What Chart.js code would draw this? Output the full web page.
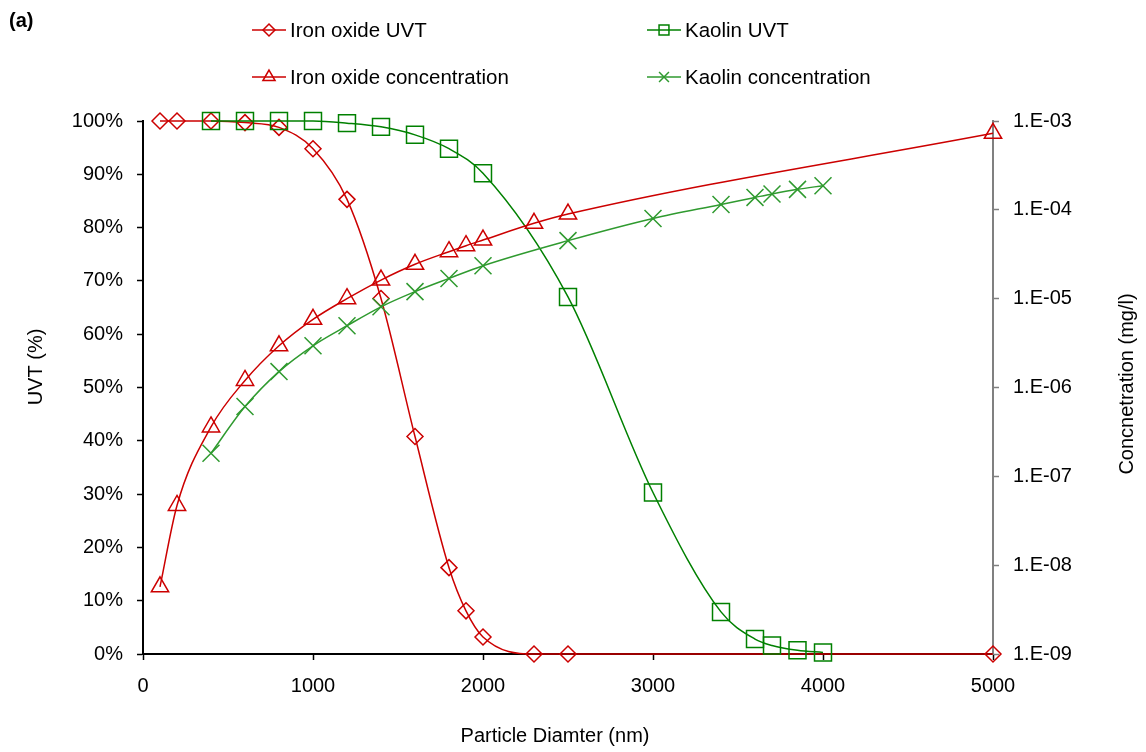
<!DOCTYPE html>
<html>
<head>
<meta charset="utf-8">
<script src="https://cdn.jsdelivr.net/npm/chart.js@4"></script>
<style>
    html, body { margin: 0; padding: 0; background: #fff; }
    #wrap { width: 1146px; height: 752px; }
</style>
</head>
<body>
<div id="wrap"><canvas id="myChart" width="1146" height="752"></canvas></div>
<script>
// particle size (nm) and measured values for each series
var ironUvtSize = [100, 200, 400, 600, 800, 1000, 1200, 1400, 1600, 1800, 1900, 2000, 2300, 2500, 5000];
var ironUvt = [100, 100, 100, 99.7, 98.8, 94.8, 85.3, 66.7, 40.8, 16.2, 8.1, 3.2, 0, 0, 0];

var kaolinUvtSize = [400, 600, 800, 1000, 1200, 1400, 1600, 1800, 2000, 2500, 3000, 3400, 3600, 3700, 3850, 4000];
var kaolinUvt = [100, 100, 100, 100, 99.6, 98.9, 97.4, 94.8, 90.2, 67.0, 30.3, 7.9, 2.8, 1.6, 0.7, 0.3];

var ironConcSize = [100, 200, 400, 600, 800, 1000, 1200, 1400, 1600, 1800, 1900, 2000, 2300, 2500, 5000];
var ironConc = [5.7e-9, 4.7e-8, 3.6e-7, 1.2e-6, 2.95e-6, 5.85e-6, 1.0e-5, 1.62e-5, 2.44e-5, 3.38e-5, 3.95e-5, 4.57e-5, 7.05e-5, 8.97e-5, 7.27e-4];

var kaolinConcSize = [400, 600, 800, 1000, 1200, 1400, 1600, 1800, 2000, 2500, 3000, 3400, 3600, 3700, 3850, 4000];
var kaolinConc = [1.82e-7, 6.1e-7, 1.51e-6, 2.95e-6, 4.96e-6, 8.1e-6, 1.2e-5, 1.69e-5, 2.35e-5, 4.5e-5, 8.0e-5, 1.15e-4, 1.38e-4, 1.51e-4, 1.70e-4, 1.87e-4];

// axis ticks
var sizeTicks = [0, 1000, 2000, 3000, 4000, 5000];
var sizeTickLabels = ['0', '1000', '2000', '3000', '4000', '5000'];
var uvtTicks = [0, 10, 20, 30, 40, 50, 60, 70, 80, 90, 100];
var uvtTickLabels = ['0%', '10%', '20%', '30%', '40%', '50%', '60%', '70%', '80%', '90%', '100%'];
var concTicks = [1e-9, 1e-8, 1e-7, 1e-6, 1e-5, 1e-4, 1e-3];
var concTickLabels = ['1.E-09', '1.E-08', '1.E-07', '1.E-06', '1.E-05', '1.E-04', '1.E-03'];

var seriesNames = ['Iron oxide UVT', 'Kaolin UVT', 'Iron oxide concentration', 'Kaolin concentration'];

var RED = '#CC0000';
var GREEN = '#008000';
var LIGHTGREEN = '#2F9A2F';
var FONT = 'Arial, "Liberation Sans", sans-serif';

function pairs(xs, ys) {
    return xs.map(function (x, i) { return { x: x, y: ys[i] }; });
}

function fixTicks(values) {
    return function (scale) {
        scale.ticks = values.map(function (v) { return { value: v }; });
    };
}

function labelFrom(values, labels) {
    return function (v) { return labels[values.indexOf(v)]; };
}

function series(label, xs, ys, axis, color, style, radius, order) {
    return {
        label: label,
        data: pairs(xs, ys),
        yAxisID: axis,
        borderColor: color,
        borderWidth: 1.5,
        pointStyle: style,
        pointRadius: radius,
        pointHoverRadius: radius,
        pointBorderColor: color,
        pointBackgroundColor: 'rgba(0,0,0,0)',
        pointBorderWidth: 1.5,
        cubicInterpolationMode: 'monotone',
        clip: false,
        order: order
    };
}

// legend, axis titles and panel letter
const extras = {
    id: 'extras',
    afterDraw: function (chart) {
        var ctx = chart.ctx;
        var ds = chart.data.datasets;
        var cols = [252, 647];
        var rows = [30, 77];
        ctx.save();
        ds.forEach(function (d, i) {
            var x = cols[i % 2];
            var y = rows[Math.floor(i / 2)];
            ctx.strokeStyle = d.borderColor;
            ctx.lineWidth = 1.5;
            ctx.beginPath();
            ctx.moveTo(x, y);
            ctx.lineTo(x + 34, y);
            ctx.stroke();
            ctx.fillStyle = 'rgba(0,0,0,0)';
            Chart.helpers.drawPoint(ctx, {
                pointStyle: d.pointStyle,
                radius: d.pointStyle === 'rectRot' ? 6 : 7,
                rotation: 0,
                borderWidth: 1.5
            }, x + 17, y);
            ctx.fillStyle = '#000';
            ctx.font = '20.5px ' + FONT;
            ctx.textAlign = 'left';
            ctx.textBaseline = 'middle';
            ctx.fillText(d.label, x + 38, y + 1);
        });

        ctx.fillStyle = '#000';
        ctx.font = 'bold 20px ' + FONT;
        ctx.textAlign = 'left';
        ctx.textBaseline = 'middle';
        ctx.fillText('(a)', 9, 21);

        ctx.font = '20px ' + FONT;
        ctx.textAlign = 'center';
        ctx.fillText('Particle Diamter (nm)', 555, 736);

        ctx.save();
        ctx.translate(36, 367);
        ctx.rotate(-Math.PI / 2);
        ctx.fillText('UVT (%)', 0, 0);
        ctx.restore();

        ctx.save();
        ctx.translate(1127, 384);
        ctx.rotate(-Math.PI / 2);
        ctx.fillText('Concnetration (mg/l)', 0, 0);
        ctx.restore();
        ctx.restore();
    }
};

Chart.defaults.font.family = FONT;
Chart.defaults.font.size = 20;
Chart.defaults.color = '#000';

const ctx = document.getElementById('myChart').getContext('2d');
const myChart = new Chart(ctx, {
    type: 'line',
    data: {
        datasets: [
            series(seriesNames[0], ironUvtSize, ironUvt, 'y', RED, 'rectRot', 8, 4),
            series(seriesNames[1], kaolinUvtSize, kaolinUvt, 'y', GREEN, 'rect', 12, 3),
            series(seriesNames[2], ironConcSize, ironConc, 'y2', RED, 'triangle', 10, 2),
            series(seriesNames[3], kaolinConcSize, kaolinConc, 'y2', LIGHTGREEN, 'crossRot', 12, 1)
        ]
    },
    options: {
        responsive: false,
        animation: false,
        events: [],
        layout: { padding: { top: 121, left: 0, right: 0, bottom: 0 } },
        scales: {
            x: {
                type: 'linear',
                min: 0,
                max: 5000,
                afterBuildTicks: fixTicks(sizeTicks),
                afterFit: function (scale) { scale.height = 98; },
                grid: { drawOnChartArea: false, color: '#000', tickLength: 6, tickWidth: 1.5 },
                border: { color: '#000', width: 2 },
                ticks: { padding: 14, maxRotation: 0, callback: labelFrom(sizeTicks, sizeTickLabels) }
            },
            y: {
                position: 'left',
                min: 0,
                max: 100,
                afterBuildTicks: fixTicks(uvtTicks),
                afterFit: function (scale) { scale.width = 143; },
                grid: { drawOnChartArea: false, color: '#000', tickLength: 6, tickWidth: 1.5 },
                border: { color: '#000', width: 2 },
                ticks: { padding: 14, callback: labelFrom(uvtTicks, uvtTickLabels) }
            },
            y2: {
                type: 'logarithmic',
                position: 'right',
                min: 1e-9,
                max: 1e-3,
                afterBuildTicks: fixTicks(concTicks),
                afterFit: function (scale) { scale.width = 153; },
                grid: { drawOnChartArea: false, color: '#808080', tickLength: 6, tickWidth: 1.5 },
                border: { color: '#808080', width: 2 },
                ticks: { padding: 14, callback: labelFrom(concTicks, concTickLabels) }
            }
        },
        plugins: {
            legend: { display: false },
            tooltip: { enabled: false }
        }
    },
    plugins: [extras]
});
</script>
</body>
</html>
